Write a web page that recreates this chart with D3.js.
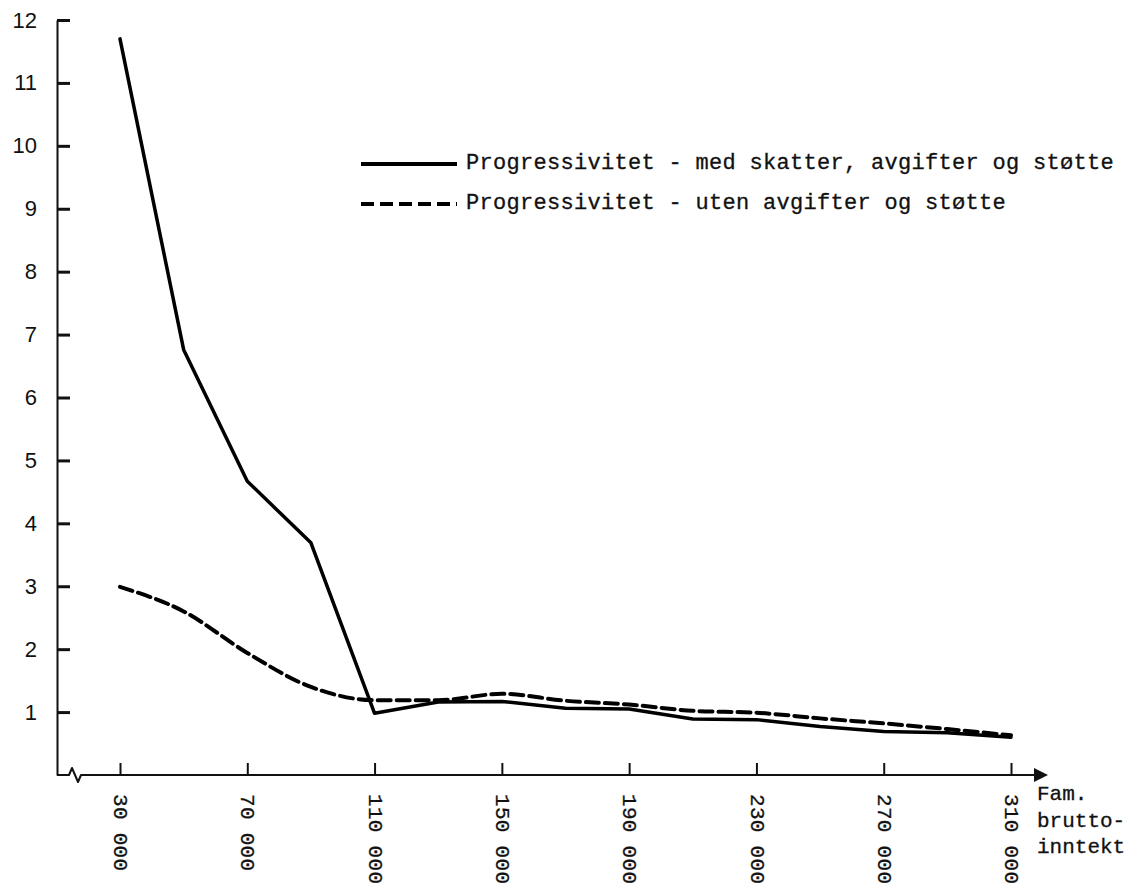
<!DOCTYPE html>
<html>
<head>
<meta charset="utf-8">
<script src="https://cdn.jsdelivr.net/npm/d3@7"></script>
<style>
  html, body { margin: 0; padding: 0; background: #fff; }
  svg { display: block; }
</style>
</head>
<body>
<svg id="chart" width="1138" height="883"></svg>
<script>
// ---- data ----
const incomes = [30000, 50000, 70000, 90000, 110000, 130000, 150000, 170000,
                 190000, 210000, 230000, 250000, 270000, 290000, 310000];
const withTaxesFeesSupport = [11.7, 6.76, 4.67, 3.69, 0.98, 1.16, 1.17, 1.06,
                              1.05, 0.89, 0.88, 0.77, 0.69, 0.67, 0.60];
const withoutFeesSupport = [2.99, 2.6, 1.94, 1.40, 1.19, 1.19, 1.29, 1.18,
                            1.12, 1.02, 0.99, 0.90, 0.82, 0.73, 0.63];
const xTickValues = [30000, 70000, 110000, 150000, 190000, 230000, 270000, 310000];
const yTickValues = [1, 2, 3, 4, 5, 6, 7, 8, 9, 10, 11, 12];
const legendLabels = ["Progressivitet - med skatter, avgifter og støtte",
                      "Progressivitet - uten avgifter og støtte"];
const xAxisTitle = ["Fam.", "brutto-", "inntekt"];

// ---- layout ----
const svg = d3.select("#chart");
const mono = "'Liberation Mono', 'Courier New', monospace";
const sans = "'Liberation Sans', Arial, sans-serif";
const x0 = 57, yBase = 775;

const x = d3.scaleLinear().domain([30000, 310000]).range([120, 1011]);
const y = d3.scaleLinear().domain([0, 12]).range([yBase, 20]);

// y axis
const yAxis = d3.axisLeft(y)
  .tickValues(yTickValues)
  .tickSizeInner(-13)
  .tickSizeOuter(0)
  .tickPadding(20)
  .tickFormat(d3.format("d"));
const gy = svg.append("g").attr("transform", `translate(${x0},0)`).call(yAxis);
gy.select(".domain").attr("stroke", "#111").attr("stroke-width", 2);
gy.selectAll(".tick line").attr("stroke", "#111").attr("stroke-width", 3);
gy.selectAll(".tick text")
  .attr("font-family", sans).attr("font-size", 22).attr("fill", "#111");

// x axis
const fmt = d => d3.format(",")(d).replace(",", " ");
const xAxis = d3.axisBottom(x)
  .tickValues(xTickValues)
  .tickSizeInner(-12)
  .tickSizeOuter(0)
  .tickFormat(fmt);
const gx = svg.append("g").attr("transform", `translate(0,${yBase})`).call(xAxis);
gx.select(".domain").remove();
gx.selectAll(".tick line").attr("stroke", "#111").attr("stroke-width", 2);
gx.selectAll(".tick text")
  .attr("font-family", mono).attr("font-size", 21).attr("fill", "#111")
  .attr("stroke", "#111").attr("stroke-width", 0.3)
  .attr("letter-spacing", 0.3)
  .attr("text-anchor", "start")
  .attr("y", 0).attr("dy", "0.3em")
  .attr("transform", "translate(0,19) rotate(90)");

// x axis line with break and arrow
const axisPath = d3.path();
axisPath.moveTo(x0, yBase);
axisPath.lineTo(69, yBase);
axisPath.lineTo(72, yBase - 7);
axisPath.lineTo(78, yBase + 7);
axisPath.lineTo(81, yBase);
axisPath.lineTo(1036, yBase);
svg.append("path").attr("d", axisPath.toString())
  .attr("fill", "none").attr("stroke", "#111").attr("stroke-width", 2)
  .attr("stroke-linejoin", "round");
svg.append("path")
  .attr("d", `M1034,${yBase - 7}L1048,${yBase}L1034,${yBase + 7}Z`)
  .attr("fill", "#111");

// x axis title
svg.append("g").selectAll("text").data(xAxisTitle).join("text")
  .attr("x", 1037).attr("y", (d, i) => 800 + i * 26.5)
  .attr("font-family", mono).attr("font-size", 21).attr("fill", "#111")
  .attr("stroke", "#111").attr("stroke-width", 0.3)
  .text(d => d);

// lines
const series = [
  { values: withTaxesFeesSupport, dash: null, curve: d3.curveLinear },
  { values: withoutFeesSupport, dash: "13,6", curve: d3.curveMonotoneX }
];
series.forEach(s => {
  const line = d3.line()
    .x((d, i) => x(incomes[i]))
    .y(d => y(d))
    .curve(s.curve);
  svg.append("path").datum(s.values)
    .attr("d", line)
    .attr("fill", "none")
    .attr("stroke", "#000")
    .attr("stroke-width", s.dash ? 4 : 3.5)
    .attr("stroke-linejoin", "round")
    .attr("stroke-linecap", "round")
    .attr("stroke-dasharray", s.dash);
});

// legend
const legend = svg.append("g");
legendLabels.forEach((lab, i) => {
  const ly = 164 + i * 40;
  legend.append("line")
    .attr("x1", 361).attr("x2", 457).attr("y1", ly).attr("y2", ly)
    .attr("stroke", "#000").attr("stroke-width", 4)
    .attr("stroke-dasharray", series[i].dash);
  legend.append("text")
    .attr("x", 466).attr("y", ly + 5)
    .attr("font-family", mono).attr("font-size", 22)
    .attr("letter-spacing", 0.3)
    .attr("fill", "#111").attr("stroke", "#111").attr("stroke-width", 0.3)
    .text(lab);
});
</script>
</body>
</html>
